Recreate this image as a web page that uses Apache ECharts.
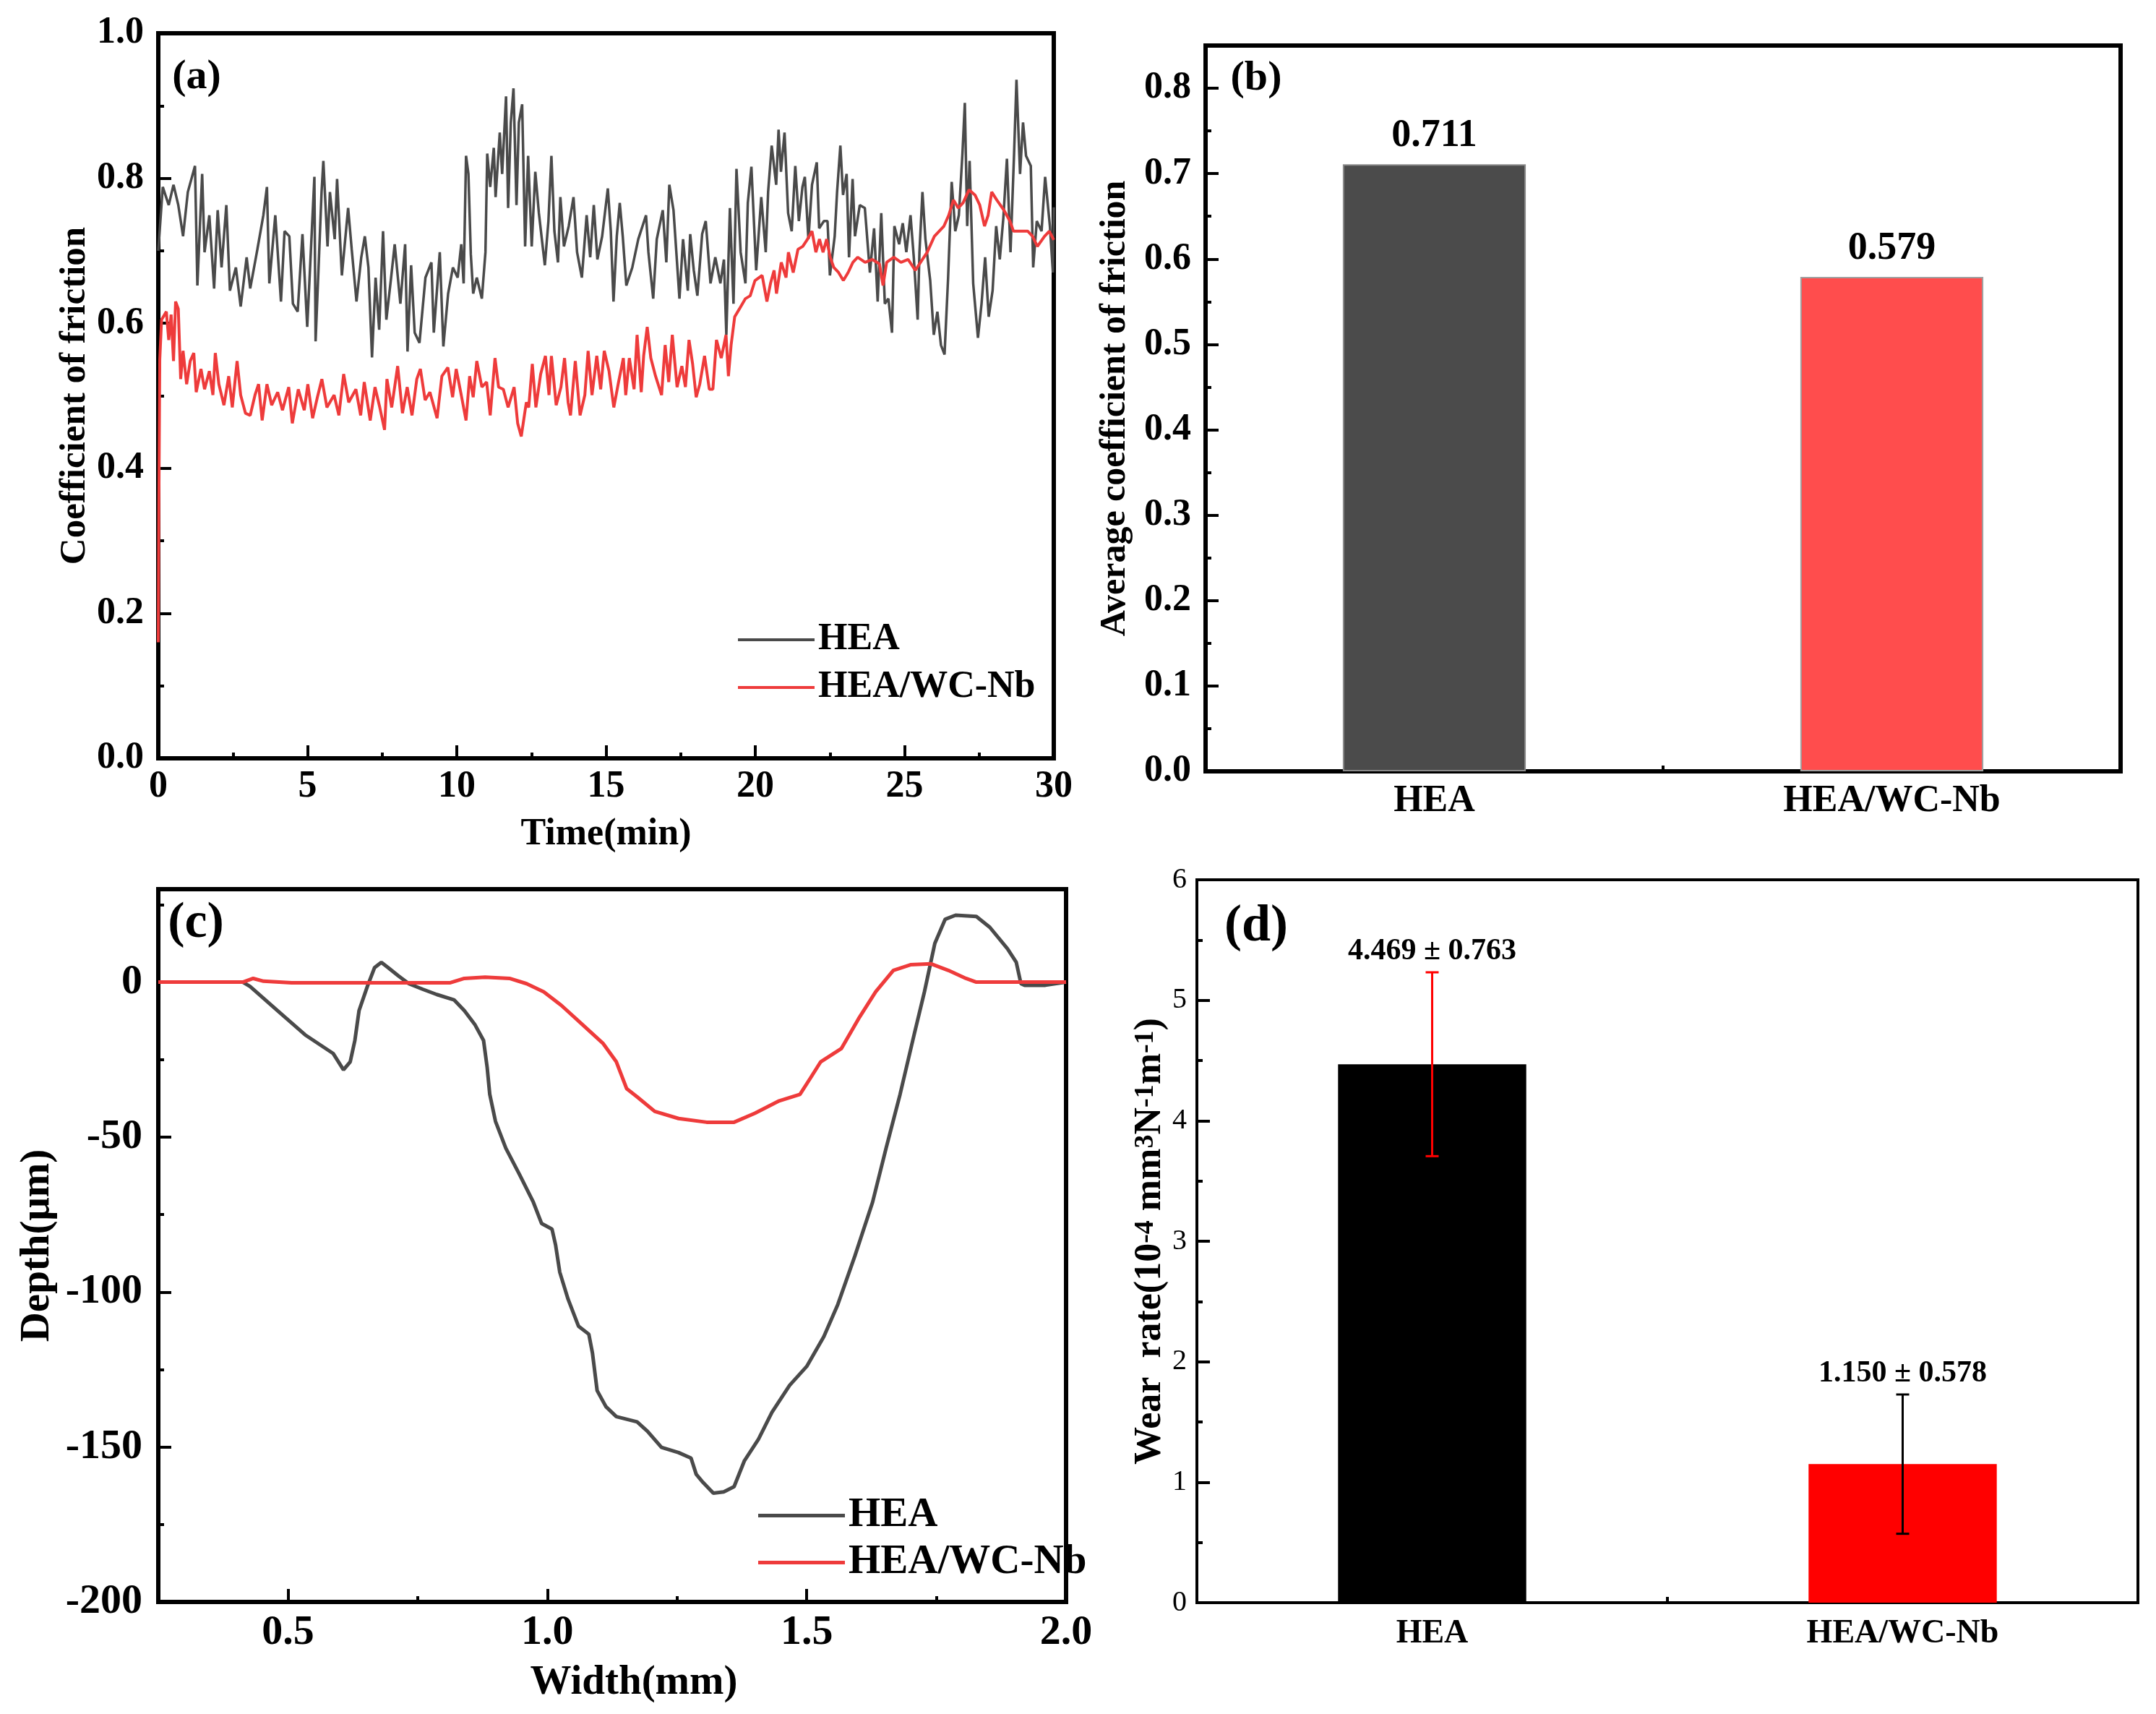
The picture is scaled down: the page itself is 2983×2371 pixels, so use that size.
<!DOCTYPE html>
<html>
<head>
<meta charset="utf-8">
<script src="https://cdn.jsdelivr.net/npm/echarts@6/dist/echarts.min.js"></script>
<style>
html, body { margin: 0; padding: 0; background: #fff; }
#main { width: 2983px; height: 2371px; }
</style>
</head>
<body>
<div id="main"></div>
<script>
var myChart = echarts.init(document.getElementById('main'), null, { renderer: 'canvas' })

// (a) coefficient of friction vs time
var heaTime = [
    0.00, 0.15, 0.35, 0.51, 0.67, 0.83, 0.99, 1.23, 1.31, 1.47,
    1.55, 1.71, 1.87, 1.99, 2.12, 2.28, 2.40, 2.60, 2.76, 2.96,
    3.08, 3.32, 3.52, 3.64, 3.72, 3.92, 4.11, 4.23, 4.39, 4.51,
    4.67, 4.83, 4.99, 5.11, 5.23, 5.27, 5.39, 5.47, 5.53, 5.67,
    5.75, 5.91, 5.99, 6.15, 6.36, 6.48, 6.64, 6.80, 6.92, 7.04,
    7.16, 7.28, 7.40, 7.53, 7.64, 7.80, 7.92, 8.11, 8.27, 8.35,
    8.47, 8.59, 8.75, 8.95, 9.15, 9.23, 9.43, 9.55, 9.71, 9.87,
    10.03, 10.15, 10.23, 10.31, 10.39, 10.47, 10.55, 10.67, 10.84, 10.96,
    11.02, 11.12, 11.24, 11.30, 11.44, 11.52, 11.65, 11.72, 11.81, 11.90,
    12.00, 12.08, 12.19, 12.29, 12.39, 12.51, 12.63, 12.75, 12.95, 13.07,
    13.17, 13.27, 13.39, 13.47, 13.59, 13.75, 13.91, 14.03, 14.19, 14.35,
    14.47, 14.59, 14.71, 14.87, 15.06, 15.16, 15.25, 15.36, 15.46, 15.56,
    15.68, 15.88, 16.08, 16.34, 16.42, 16.58, 16.70, 16.90, 17.02, 17.12,
    17.26, 17.46, 17.58, 17.74, 17.82, 17.94, 18.06, 18.22, 18.34, 18.50,
    18.66, 18.83, 18.95, 19.03, 19.15, 19.27, 19.37, 19.51, 19.67, 19.75,
    19.87, 20.03, 20.20, 20.35, 20.43, 20.55, 20.70, 20.78, 20.86, 20.98,
    21.10, 21.22, 21.34, 21.46, 21.58, 21.66, 21.78, 21.90, 22.06, 22.14,
    22.30, 22.42, 22.50, 22.66, 22.74, 22.85, 22.94, 23.06, 23.14, 23.26,
    23.34, 23.50, 23.67, 23.84, 23.98, 24.10, 24.22, 24.34, 24.46, 24.58,
    24.66, 24.82, 24.94, 25.06, 25.20, 25.31, 25.44, 25.50, 25.60, 25.70,
    25.86, 25.98, 26.10, 26.22, 26.34, 26.46, 26.58, 26.70, 26.82, 26.94,
    27.02, 27.10, 27.18, 27.30, 27.46, 27.58, 27.70, 27.82, 27.95, 28.07,
    28.19, 28.31, 28.43, 28.55, 28.67, 28.75, 28.87, 28.97, 29.07, 29.23,
    29.31, 29.43, 29.59, 29.71, 29.87, 29.97, 30.00
]
var heaCof = [
    0.700, 0.788, 0.763, 0.791, 0.763, 0.720, 0.781, 0.817, 0.652, 0.806,
    0.698, 0.749, 0.648, 0.756, 0.677, 0.763, 0.645, 0.677, 0.623, 0.691,
    0.648, 0.702, 0.749, 0.788, 0.655, 0.749, 0.630, 0.727, 0.720, 0.627,
    0.616, 0.723, 0.595, 0.698, 0.802, 0.575, 0.698, 0.781, 0.824, 0.706,
    0.781, 0.716, 0.799, 0.666, 0.759, 0.702, 0.630, 0.691, 0.720, 0.677,
    0.553, 0.663, 0.591, 0.727, 0.605, 0.663, 0.709, 0.627, 0.709, 0.561,
    0.680, 0.587, 0.573, 0.663, 0.684, 0.587, 0.698, 0.568, 0.641, 0.677,
    0.663, 0.709, 0.655, 0.831, 0.806, 0.695, 0.641, 0.663, 0.634, 0.698,
    0.834, 0.788, 0.842, 0.774, 0.863, 0.806, 0.913, 0.759, 0.877, 0.924,
    0.763, 0.877, 0.902, 0.706, 0.831, 0.706, 0.809, 0.752, 0.680, 0.741,
    0.831, 0.727, 0.684, 0.774, 0.706, 0.734, 0.774, 0.698, 0.663, 0.749,
    0.691, 0.763, 0.688, 0.720, 0.786, 0.727, 0.630, 0.720, 0.766, 0.720,
    0.652, 0.677, 0.716, 0.749, 0.698, 0.634, 0.716, 0.756, 0.684, 0.791,
    0.756, 0.634, 0.716, 0.645, 0.723, 0.673, 0.638, 0.723, 0.741, 0.655,
    0.691, 0.655, 0.688, 0.584, 0.759, 0.627, 0.813, 0.698, 0.655, 0.766,
    0.816, 0.673, 0.774, 0.698, 0.781, 0.845, 0.791, 0.867, 0.809, 0.863,
    0.752, 0.727, 0.817, 0.741, 0.788, 0.802, 0.716, 0.791, 0.822, 0.731,
    0.741, 0.741, 0.666, 0.720, 0.781, 0.845, 0.777, 0.806, 0.691, 0.799,
    0.720, 0.763, 0.759, 0.670, 0.731, 0.630, 0.752, 0.627, 0.634, 0.587,
    0.734, 0.709, 0.738, 0.698, 0.749, 0.691, 0.605, 0.698, 0.781, 0.716,
    0.659, 0.584, 0.616, 0.570, 0.557, 0.663, 0.795, 0.727, 0.749, 0.834,
    0.904, 0.734, 0.824, 0.655, 0.580, 0.627, 0.691, 0.609, 0.645, 0.734,
    0.688, 0.745, 0.827, 0.698, 0.834, 0.936, 0.806, 0.877, 0.831, 0.817,
    0.677, 0.741, 0.727, 0.802, 0.734, 0.670, 0.760
]
var wcTime = [
    0.00, 0.02, 0.05, 0.11, 0.27, 0.35, 0.43, 0.51, 0.58, 0.67,
    0.75, 0.83, 0.95, 1.07, 1.19, 1.27, 1.43, 1.55, 1.71, 1.83,
    1.91, 2.03, 2.20, 2.36, 2.48, 2.64, 2.76, 2.92, 3.08, 3.24,
    3.36, 3.48, 3.64, 3.80, 4.00, 4.16, 4.37, 4.49, 4.69, 4.89,
    5.01, 5.17, 5.33, 5.48, 5.65, 5.89, 6.05, 6.21, 6.38, 6.62,
    6.78, 6.90, 7.10, 7.26, 7.42, 7.58, 7.66, 7.82, 8.02, 8.18,
    8.34, 8.50, 8.66, 8.78, 8.94, 9.10, 9.34, 9.50, 9.70, 9.86,
    9.98, 10.15, 10.31, 10.43, 10.55, 10.67, 10.84, 11.00, 11.12, 11.28,
    11.40, 11.56, 11.72, 11.92, 12.04, 12.16, 12.33, 12.41, 12.53, 12.65,
    12.81, 12.97, 13.09, 13.17, 13.33, 13.49, 13.61, 13.73, 13.81, 13.97,
    14.13, 14.29, 14.40, 14.53, 14.69, 14.82, 14.94, 15.10, 15.26, 15.42,
    15.58, 15.66, 15.78, 15.94, 16.04, 16.18, 16.26, 16.38, 16.50, 16.66,
    16.86, 16.98, 17.10, 17.22, 17.38, 17.54, 17.66, 17.78, 17.90, 18.02,
    18.14, 18.30, 18.46, 18.58, 18.70, 18.86, 19.02, 19.10, 19.19, 19.31,
    19.47, 19.67, 19.83, 19.99, 20.23, 20.39, 20.51, 20.63, 20.71, 20.87,
    21.03, 21.11, 21.27, 21.43, 21.59, 21.75, 21.90, 22.03, 22.15, 22.27,
    22.39, 22.51, 22.63, 22.79, 22.95, 23.11, 23.27, 23.43, 23.68, 23.92,
    24.16, 24.28, 24.40, 24.64, 24.88, 25.12, 25.36, 25.60, 25.76, 26.00,
    26.16, 26.32, 26.48, 26.64, 26.80, 26.96, 27.16, 27.36, 27.52, 27.68,
    27.80, 27.92, 28.09, 28.33, 28.53, 28.65, 28.89, 29.13, 29.29, 29.45,
    29.69, 29.85, 30.00
]
var wcCof = [
    0.160, 0.350, 0.550, 0.605, 0.616, 0.577, 0.612, 0.548, 0.630, 0.620,
    0.523, 0.562, 0.516, 0.548, 0.559, 0.505, 0.537, 0.509, 0.534, 0.501,
    0.559, 0.516, 0.487, 0.527, 0.484, 0.548, 0.501, 0.476, 0.473, 0.501,
    0.516, 0.466, 0.516, 0.487, 0.505, 0.480, 0.512, 0.462, 0.509, 0.480,
    0.516, 0.469, 0.498, 0.523, 0.484, 0.501, 0.473, 0.530, 0.491, 0.509,
    0.473, 0.519, 0.466, 0.512, 0.484, 0.453, 0.523, 0.484, 0.541, 0.476,
    0.512, 0.473, 0.523, 0.537, 0.494, 0.505, 0.469, 0.527, 0.539, 0.498,
    0.537, 0.501, 0.466, 0.527, 0.498, 0.548, 0.512, 0.519, 0.473, 0.552,
    0.512, 0.509, 0.484, 0.512, 0.462, 0.444, 0.491, 0.484, 0.544, 0.484,
    0.530, 0.555, 0.501, 0.555, 0.487, 0.512, 0.552, 0.491, 0.473, 0.548,
    0.473, 0.501, 0.562, 0.501, 0.555, 0.509, 0.562, 0.534, 0.484, 0.519,
    0.552, 0.501, 0.552, 0.509, 0.584, 0.505, 0.555, 0.595, 0.552, 0.527,
    0.501, 0.570, 0.519, 0.584, 0.512, 0.541, 0.512, 0.577, 0.544, 0.498,
    0.516, 0.555, 0.509, 0.509, 0.577, 0.552, 0.584, 0.527, 0.570, 0.609,
    0.620, 0.634, 0.638, 0.659, 0.666, 0.630, 0.655, 0.673, 0.641, 0.684,
    0.663, 0.698, 0.670, 0.702, 0.706, 0.716, 0.727, 0.698, 0.716, 0.698,
    0.716, 0.691, 0.677, 0.670, 0.659, 0.670, 0.684, 0.691, 0.684, 0.688,
    0.682, 0.652, 0.684, 0.691, 0.684, 0.688, 0.673, 0.688, 0.698, 0.720,
    0.727, 0.734, 0.749, 0.770, 0.759, 0.766, 0.784, 0.777, 0.763, 0.734,
    0.749, 0.781, 0.770, 0.756, 0.741, 0.727, 0.727, 0.727, 0.720, 0.706,
    0.720, 0.727, 0.715
]

// (b) average coefficient of friction
var avgNames = ['HEA', 'HEA/WC-Nb']
var avgCof = [0.711, 0.579]

// (c) wear track profile
var profHeaW = [0.25, 0.413, 0.427, 0.48, 0.533, 0.587, 0.607, 0.62, 0.629, 0.637,
    0.653, 0.667, 0.68, 0.693, 0.713, 0.733, 0.76, 0.787, 0.82, 0.84,
    0.86, 0.877, 0.884, 0.889, 0.9, 0.92, 0.947, 0.973, 0.989, 1.009,
    1.016, 1.024, 1.04, 1.06, 1.08, 1.087, 1.096, 1.113, 1.133, 1.173,
    1.193, 1.22, 1.253, 1.277, 1.287, 1.3, 1.32, 1.34, 1.36, 1.38,
    1.407, 1.433, 1.467, 1.5, 1.533, 1.56, 1.593, 1.627, 1.653, 1.68,
    1.707, 1.727, 1.747, 1.767, 1.787, 1.827, 1.853, 1.887, 1.904, 1.913,
    1.92, 1.96, 2.0]
var profHeaD = [0, 0, -1.4, -9.2, -17, -23, -28.3, -25.7, -18.8, -9.2,
    -1.4, 4.7, 6.4, 4.7, 2, -0.5, -2.3, -4, -5.7, -9.2,
    -13.6, -18.8, -27.5, -36.2, -44.9, -53.6, -62.3, -71, -77.9, -79.7,
    -84.9, -93.6, -102.3, -111, -113.6, -119.7, -131.8, -137, -140.2, -141.9,
    -144.9, -150.1, -151.8, -153.6, -158.8, -161.4, -164.9, -164.5, -162.8, -154.4,
    -147.5, -138.8, -130.1, -124, -114.4, -104, -88.3, -71, -53.6, -36.2,
    -17, -3.1, 12.5, 20.3, 21.6, 21.2, 17.7, 10.8, 6.4, -0.5,
    -1, -1, 0]
var profWcW = [0.25, 0.413, 0.433, 0.453, 0.507, 0.813, 0.84, 0.88, 0.927, 0.96,
    0.993, 1.027, 1.067, 1.107, 1.133, 1.153, 1.173, 1.207, 1.253, 1.307,
    1.36, 1.4, 1.447, 1.487, 1.507, 1.527, 1.567, 1.6, 1.633, 1.667,
    1.7, 1.74, 1.773, 1.807, 1.827, 2.0]
var profWcD = [0, 0, 1.2, 0.3, -0.2, -0.2, 1.2, 1.6, 1.2, -0.5,
    -3.1, -7.5, -13.6, -19.7, -25.7, -34.4, -37, -41.7, -44, -45.2,
    -45.2, -42.3, -38.3, -36.2, -31, -25.7, -21.4, -11.8, -3.1, 3.8,
    5.6, 5.9, 3.8, 1.2, 0, 0]

// (d) wear rate
var wearNames = ['HEA', 'HEA/WC-Nb']
var wearRate = [4.469, 1.150]
var wearErr = [0.763, 0.578]

// tick positions
var aXTicks = [0, 5, 10, 15, 20, 25, 30]
var aXMinor = [2.5, 7.5, 12.5, 17.5, 22.5, 27.5]
var aYTicks = [0, 0.2, 0.4, 0.6, 0.8, 1.0]
var aYMinor = [0.1, 0.3, 0.5, 0.7, 0.9]
var bYTicks = [0, 0.1, 0.2, 0.3, 0.4, 0.5, 0.6, 0.7, 0.8]
var bYMinor = [0.05, 0.15, 0.25, 0.35, 0.45, 0.55, 0.65, 0.75]
var cXTicks = [0.5, 1.0, 1.5, 2.0]
var cXMinor = [0.75, 1.25, 1.75]
var cYTicks = [-200, -150, -100, -50, 0]
var cYMinor = [-175, -125, -75, -25, 25]
var dYTicks = [0, 1, 2, 3, 4, 5, 6]
var dYMinor = [0.5, 1.5, 2.5, 3.5, 4.5, 5.5]

var FONT = 'Liberation Serif'
var GRAY = '#4a4a4a'
var RED = '#ee3b3b'

function pairs(xs, ys) {
    var out = []
    for (var i = 0; i < xs.length; i++) {
        out.push([xs[i], ys[i]])
    }
    return out
}

function mainAxis(o) {
    return {
        type: 'value',
        gridIndex: o.grid,
        position: o.pos,
        min: o.min,
        max: o.max,
        name: o.name,
        nameLocation: 'middle',
        nameGap: o.nameGap,
        nameMoveOverlap: false,
        nameTextStyle: {
            fontFamily: FONT, fontWeight: 'bold', fontSize: o.nameSize, color: '#000',
            padding: o.namePad || 0, rich: o.rich
        },
        axisLine: { show: true, onZero: false, lineStyle: { color: '#000', width: o.lineW } },
        axisTick: { show: true, inside: true, length: 18, customValues: o.ticks,
            lineStyle: { color: '#000', width: 4 } },
        axisLabel: { customValues: o.ticks, formatter: o.fmt, margin: o.margin,
            fontFamily: FONT, fontWeight: o.bold ? 'bold' : 'normal', fontSize: o.size, color: '#000' },
        splitLine: { show: false }
    }
}

// second axis on the same side, only for the short ticks
function minorAxis(grid, pos, min, max, ticks) {
    return {
        type: 'value',
        gridIndex: grid,
        position: pos,
        min: min,
        max: max,
        axisLine: { show: false, onZero: false },
        axisLabel: { show: false },
        splitLine: { show: false },
        axisTick: { show: true, inside: true, length: 8, customValues: ticks,
            lineStyle: { color: '#000', width: 4 } }
    }
}

function catAxis(grid, names, size, margin, lineW) {
    return {
        type: 'category',
        gridIndex: grid,
        data: names,
        boundaryGap: true,
        axisLine: { show: true, onZero: false, lineStyle: { color: '#000', width: lineW } },
        axisTick: { show: true, inside: true, alignWithLabel: true, length: 18,
            lineStyle: { color: '#000', width: 4 } },
        axisLabel: { fontFamily: FONT, fontWeight: 'bold', fontSize: size, color: '#000', margin: margin },
        splitLine: { show: false }
    }
}

function fix1(v) { return v.toFixed(1) }
function fix0(v) { return String(Math.round(v)) }

function panelLetter(text, x, y, size) {
    return {
        type: 'text', x: x, y: y, z: 100,
        style: { text: text, fill: '#000', align: 'center', verticalAlign: 'middle',
            font: 'bold ' + size + 'px "' + FONT + '"' }
    }
}

var gridBase = { show: true, borderColor: '#000', containLabel: false, outerBoundsMode: 'none' }

option = {
    animation: false,
    backgroundColor: '#fff',
    textStyle: { fontFamily: FONT },
    grid: [
        Object.assign({ left: 219, top: 46, width: 1239, height: 1003, borderWidth: 6 }, gridBase),
        Object.assign({ left: 1668, top: 63, width: 1266, height: 1004, borderWidth: 6 }, gridBase),
        Object.assign({ left: 219, top: 1230, width: 1256, height: 986, borderWidth: 6 }, gridBase),
        Object.assign({ left: 1656, top: 1217, width: 1302, height: 1000, borderWidth: 4 }, gridBase)
    ],
    xAxis: [
        mainAxis({ grid: 0, pos: 'bottom', min: 0, max: 30, ticks: aXTicks, fmt: fix0, size: 52, bold: true,
            margin: 14, name: 'Time(min)', nameGap: 80, nameSize: 52, lineW: 6 }),
        minorAxis(0, 'bottom', 0, 30, aXMinor),
        catAxis(1, avgNames, 52, 16, 6),
        minorAxis(1, 'bottom', 0, 2, [1]),
        mainAxis({ grid: 2, pos: 'bottom', min: 0.25, max: 2.0, ticks: cXTicks, fmt: fix1, size: 58, bold: true,
            margin: 14, name: 'Width(mm)', nameGap: 84, nameSize: 57, namePad: [0, 0, 0, 60], lineW: 6 }),
        minorAxis(2, 'bottom', 0.25, 2.0, cXMinor),
        catAxis(3, wearNames, 46, 20, 4),
        minorAxis(3, 'bottom', 0, 2, [1])
    ],
    yAxis: [
        mainAxis({ grid: 0, pos: 'left', min: 0, max: 1, ticks: aYTicks, fmt: fix1, size: 52, bold: true,
            margin: 20, name: 'Coefficient of friction', nameGap: 90, nameSize: 51, lineW: 6 }),
        minorAxis(0, 'left', 0, 1, aYMinor),
        mainAxis({ grid: 1, pos: 'left', min: 0, max: 0.85, ticks: bYTicks, fmt: fix1, size: 52, bold: true,
            margin: 20, name: 'Average coefficient of friction', nameGap: 100, nameSize: 50, lineW: 6 }),
        minorAxis(1, 'left', 0, 0.85, bYMinor),
        mainAxis({ grid: 2, pos: 'left', min: -200, max: 30, ticks: cYTicks, fmt: fix0, size: 58, bold: true,
            margin: 22, name: 'Depth(\u03bcm)', nameGap: 138, nameSize: 57, lineW: 6 }),
        minorAxis(2, 'left', -200, 30, cYMinor),
        mainAxis({ grid: 3, pos: 'left', min: 0, max: 6, ticks: dYTicks, fmt: fix0, size: 40, bold: false,
            margin: 14, name: 'Wear  rate(10{sup|-4} mm{sup|3}N{sup|-1}m{sup|-1})', nameGap: 38, nameSize: 52,
            rich: { sup: { fontFamily: FONT, fontWeight: 'bold', fontSize: 38, verticalAlign: 'top', color: '#000' } },
            lineW: 4 }),
        minorAxis(3, 'left', 0, 6, dYMinor)
    ],
    legend: [
        {
            orient: 'vertical', left: 1016, top: 854, itemWidth: 106, itemHeight: 4, itemGap: 14,
            icon: 'rect', data: ['HEA', 'HEA/WC-Nb'],
            textStyle: { fontFamily: FONT, fontWeight: 'bold', fontSize: 52, color: '#000' }
        },
        {
            orient: 'vertical', left: 1044, top: 2063, itemWidth: 120, itemHeight: 5, itemGap: 8,
            icon: 'rect', data: ['HEA', 'HEA/WC-Nb'],
            textStyle: { fontFamily: FONT, fontWeight: 'bold', fontSize: 57, color: '#000' }
        }
    ],
    graphic: [
        panelLetter('(a)', 272, 107, 58),
        panelLetter('(b)', 1738, 109, 58),
        panelLetter('(c)', 271, 1278, 70),
        panelLetter('(d)', 1738, 1282, 72)
    ],
    series: [
        {
            name: 'HEA', type: 'line', xAxisIndex: 0, yAxisIndex: 0,
            data: pairs(heaTime, heaCof), showSymbol: false, color: GRAY,
            lineStyle: { color: GRAY, width: 3.5 }
        },
        {
            name: 'HEA/WC-Nb', type: 'line', xAxisIndex: 0, yAxisIndex: 0,
            data: pairs(wcTime, wcCof), showSymbol: false, color: RED,
            lineStyle: { color: RED, width: 4 }
        },
        {
            name: 'avg', type: 'bar', xAxisIndex: 2, yAxisIndex: 2, barWidth: '40%',
            data: avgCof.map(function (v, i) {
                return {
                    value: v,
                    itemStyle: i === 0
                        ? { color: '#4b4b4b', borderColor: '#8a8a8a', borderWidth: 2 }
                        : { color: '#ff4d4d', borderColor: '#a0a0a0', borderWidth: 2 }
                }
            }),
            label: {
                show: true, position: 'top', distance: 12,
                formatter: function (p) { return p.value.toFixed(3) },
                fontFamily: FONT, fontWeight: 'bold', fontSize: 54, color: '#000'
            }
        },
        {
            name: 'HEA', type: 'line', xAxisIndex: 4, yAxisIndex: 4,
            data: pairs(profHeaW, profHeaD), showSymbol: false, color: GRAY,
            lineStyle: { color: GRAY, width: 5 }
        },
        {
            name: 'HEA/WC-Nb', type: 'line', xAxisIndex: 4, yAxisIndex: 4,
            data: pairs(profWcW, profWcD), showSymbol: false, color: RED,
            lineStyle: { color: RED, width: 5 }
        },
        {
            name: 'wear', type: 'bar', xAxisIndex: 6, yAxisIndex: 6, barWidth: '40%',
            data: wearRate.map(function (v, i) {
                return { value: v, itemStyle: { color: i === 0 ? '#000000' : '#ff0000' } }
            })
        },
        {
            name: 'wearErr', type: 'custom', xAxisIndex: 6, yAxisIndex: 6, z: 5,
            data: wearRate.map(function (v, i) { return [i, v, wearErr[i]] }),
            renderItem: function (params, api) {
                var i = api.value(0)
                var v = api.value(1)
                var e = api.value(2)
                var top = api.coord([i, v + e])
                var bot = api.coord([i, v - e])
                var col = i === 0 ? '#ff0000' : '#000000'
                var cap = 9
                var ls = { stroke: col, lineWidth: 3 }
                return {
                    type: 'group',
                    children: [
                        { type: 'line', shape: { x1: top[0], y1: top[1], x2: bot[0], y2: bot[1] }, style: ls },
                        { type: 'line', shape: { x1: top[0] - cap, y1: top[1], x2: top[0] + cap, y2: top[1] }, style: ls },
                        { type: 'line', shape: { x1: bot[0] - cap, y1: bot[1], x2: bot[0] + cap, y2: bot[1] }, style: ls },
                        {
                            type: 'text', x: top[0], y: top[1] - 8,
                            style: {
                                text: v.toFixed(3) + ' \u00b1 ' + e.toFixed(3),
                                fill: '#000', align: 'center', verticalAlign: 'bottom',
                                font: 'bold 42px "' + FONT + '"'
                            }
                        }
                    ]
                }
            }
        }
    ]
}

myChart.setOption(option)
</script>
</body>
</html>
